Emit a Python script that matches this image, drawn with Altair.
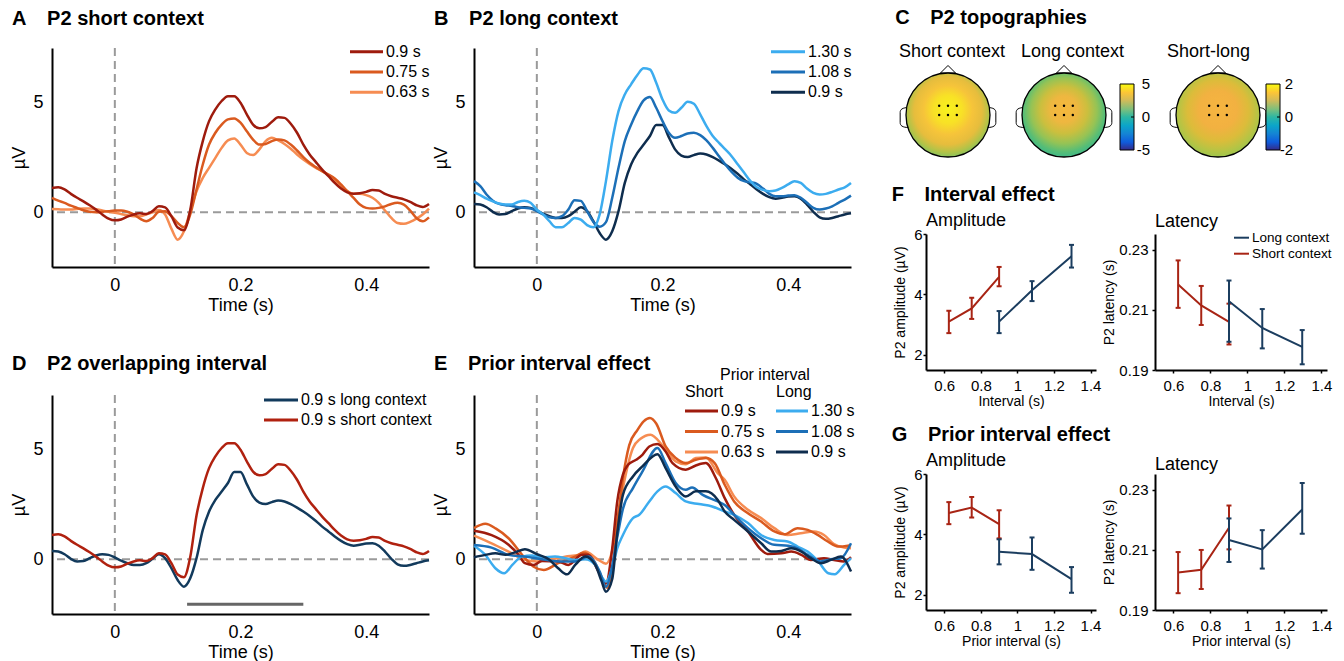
import altair as alt
import pandas as pd

FONT = "Liberation Sans"

# ---------------- ERP data (µV), sampled every 10 ms from -0.1 to 0.5 s ----------------
time_s = [round(-0.1 + 0.01 * i, 2) for i in range(61)]

short_09 = [1.11, 1.14, 1.04, 0.84, 0.66, 0.5, 0.32, 0.12, -0.1, -0.29,
            -0.37, -0.33, -0.2, -0.1, -0.05, -0.08, 0.05, 0.27, 0.22, -0.18,
            -0.7, -0.82, 0.1, 2.0, 3.25, 4.16, 4.7, 5.08, 5.3, 5.3,
            5.0, 4.47, 4.0, 3.83, 3.89, 4.13, 4.34, 4.31, 4.04, 3.63,
            3.09, 2.64, 2.29, 1.95, 1.65, 1.34, 1.08, 0.91, 0.85, 0.87,
            0.93, 1.02, 0.99, 0.84, 0.73, 0.66, 0.59, 0.47, 0.32, 0.24, 0.38]
short_075 = [0.66, 0.53, 0.43, 0.3, 0.2, 0.09, 0.02, 0.0, 0.02, 0.05,
             0.08, 0.08, 0.02, -0.1, -0.29, -0.41, -0.26, 0.02, 0.05, -0.18,
             -0.49, -0.69, -0.1, 1.04, 2.18, 3.09, 3.63, 4.0, 4.24, 4.28,
             4.09, 3.7, 3.32, 3.09, 3.12, 3.25, 3.32, 3.28, 3.09, 2.82,
             2.52, 2.26, 2.06, 1.88, 1.72, 1.54, 1.27, 0.96, 0.66, 0.35,
             0.2, 0.17, 0.2, 0.27, 0.38, 0.43, 0.35, 0.08, -0.26, -0.41, -0.23]
short_063 = [0.15, 0.14, 0.12, 0.12, 0.15, 0.17, 0.17, 0.14, 0.08, 0.02,
             -0.02, -0.08, -0.14, -0.18, -0.18, -0.1, 0.0, 0.1, -0.1, -0.75,
             -1.25, -0.87, 0.05, 0.96, 1.57, 2.03, 2.48, 2.94, 3.28, 3.37,
             3.09, 2.71, 2.61, 2.87, 3.25, 3.4, 3.28, 3.12, 2.9, 2.64,
             2.41, 2.21, 2.03, 1.88, 1.69, 1.45, 1.19, 0.96, 0.84, 0.84,
             0.78, 0.66, 0.43, 0.08, -0.26, -0.49, -0.53, -0.44, -0.29, -0.1, 0.17]
long_130 = [0.91, 0.78, 0.62, 0.5, 0.4, 0.35, 0.35, 0.47, 0.53, 0.43,
            0.12, -0.1, -0.41, -0.68, -0.69, -0.49, -0.26, -0.34, -0.59, -0.69,
            -0.1, 1.42, 3.25, 4.62, 5.38, 5.84, 6.27, 6.57, 6.52, 5.91,
            5.15, 4.65, 4.54, 4.77, 5.05, 4.95, 4.47, 3.93, 3.48, 3.17,
            2.87, 2.56, 2.18, 1.8, 1.42, 1.14, 1.02, 0.96, 0.99, 1.11,
            1.27, 1.42, 1.34, 1.08, 0.88, 0.81, 0.84, 0.93, 1.04, 1.14, 1.34]
long_108 = [1.42, 1.19, 0.81, 0.53, 0.38, 0.32, 0.29, 0.23, 0.2, 0.17,
            0.05, -0.1, -0.23, -0.26, -0.18, 0.12, 0.55, 0.52, 0.05, -0.44,
            -0.66, -0.45, 0.66, 2.03, 3.25, 4.0, 4.62, 5.11, 5.26, 4.77,
            4.16, 3.63, 3.4, 3.48, 3.6, 3.63, 3.52, 3.28, 2.94, 2.56,
            2.18, 1.84, 1.57, 1.42, 1.37, 1.3, 1.08, 0.84, 0.73, 0.73,
            0.76, 0.78, 0.66, 0.43, 0.2, 0.12, 0.17, 0.27, 0.43, 0.58, 0.76]
long_09 = [0.38, 0.35, 0.23, 0.02, -0.1, -0.08, 0.05, 0.17, 0.23, 0.2,
           0.08, -0.06, -0.18, -0.26, -0.26, -0.18, 0.02, 0.23, 0.05, -0.41,
           -0.95, -1.25, -0.87, 0.05, 1.34, 2.18, 2.71, 3.09, 3.48, 3.98,
           3.98, 3.43, 2.87, 2.59, 2.52, 2.61, 2.68, 2.64, 2.52, 2.36,
           2.18, 1.98, 1.75, 1.49, 1.27, 1.04, 0.84, 0.69, 0.62, 0.66,
           0.72, 0.73, 0.62, 0.35, 0.02, -0.23, -0.3, -0.26, -0.18, -0.1, -0.05]

# significance window in panel D (s) and its drawing level (µV)
sig_start = [0.115]
sig_end = [0.3]
sig_level = [-2.05]

# ---------------- Prior interval effect (panel E) ----------------
pe_s09_t = [-0.1, -0.072, -0.045, -0.029, -0.019, -0.005, 0.008, 0.034, 0.05, 0.072, 0.082, 0.098, 0.11, 0.12,
            0.128, 0.137, 0.145, 0.158, 0.168, 0.179, 0.192, 0.205, 0.216, 0.237, 0.253, 0.269, 0.285, 0.299,
            0.314, 0.336, 0.357, 0.367, 0.389, 0.405, 0.421, 0.436, 0.457, 0.473, 0.489, 0.5]
pe_s09_v = [1.3, 1.1, 0.66, 0.2, -0.18, -0.26, -0.08, -0.1, -0.26, 0.2, 0.2, -0.56, -1.1, 0.5,
            2.64, 3.86, 4.31, 4.54, 4.77, 5.15, 5.26, 4.92, 4.39, 4.09, 4.28, 4.39, 3.7, 2.79,
            2.03, 1.27, 0.43, 0.24, 0.27, 0.35, 0.2, -0.03, 0.05, -0.03, -0.1, 0.1]
pe_s075_t = [-0.1, -0.082, -0.065, -0.045, -0.019, -0.005, 0.011, 0.034, 0.061, 0.074, 0.088, 0.104, 0.112, 0.12,
             0.128, 0.137, 0.147, 0.16, 0.17, 0.18, 0.19, 0.205, 0.221, 0.237, 0.253, 0.269, 0.283, 0.299,
             0.314, 0.336, 0.357, 0.378, 0.394, 0.415, 0.431, 0.447, 0.463, 0.479, 0.495, 0.5]
pe_s075_v = [1.42, 1.62, 1.4, 0.96, 0.05, -0.34, -0.49, -0.18, 0.12, 0.3, 0.05, -0.87, -1.3, -0.5,
             1.6, 3.7, 5.2, 5.9, 6.3, 6.45, 6.2, 5.15, 4.62, 4.39, 4.54, 4.62, 4.39, 3.4,
             2.64, 2.1, 1.72, 1.27, 1.14, 1.42, 1.34, 1.11, 0.81, 0.58, 0.62, 0.65]
pe_s063_t = [-0.1, -0.072, -0.045, -0.019, 0.0, 0.019, 0.045, 0.066, 0.077, 0.098, 0.11, 0.12, 0.128, 0.137,
             0.153, 0.165, 0.181, 0.2, 0.221, 0.237, 0.253, 0.269, 0.288, 0.299, 0.314, 0.336, 0.357, 0.378,
             0.399, 0.42, 0.441, 0.457, 0.473, 0.489, 0.5]
pe_s063_v = [1.08, 0.73, 0.35, -0.03, -0.1, -0.03, 0.12, 0.2, 0.35, -0.03, -0.2, 0.4, 1.8, 3.25,
             5.08, 5.5, 5.69, 5.2, 4.47, 4.34, 4.62, 4.65, 3.93, 3.63, 2.87, 2.26, 1.88, 1.42,
             1.11, 1.19, 1.27, 1.11, 0.69, 0.53, 0.5]
pe_l130_t = [-0.1, -0.082, -0.066, -0.052, -0.039, -0.024, -0.008, 0.008, 0.029, 0.045, 0.061, 0.077, 0.093, 0.103,
             0.11, 0.12, 0.128, 0.137, 0.153, 0.163, 0.179, 0.192, 0.205, 0.221, 0.237, 0.258, 0.279, 0.299,
             0.314, 0.336, 0.357, 0.378, 0.399, 0.415, 0.431, 0.448, 0.464, 0.474, 0.489, 0.5]
pe_l130_v = [0.62, 0.2, -0.41, -0.64, -0.26, 0.12, 0.17, 0.09, 0.12, 0.05, -0.03, 0.0, -0.26, -0.8,
             -1.02, -0.4, 0.5, 1.11, 1.88, 2.03, 2.64, 3.1, 3.32, 3.02, 2.64, 2.52, 2.41, 2.18,
             2.03, 1.65, 1.11, 0.88, 0.81, 0.58, 0.35, -0.1, -0.64, -0.69, -0.26, 0.05]
pe_l108_t = [-0.1, -0.072, -0.045, -0.019, 0.008, 0.034, 0.061, 0.082, 0.1, 0.11, 0.12, 0.128, 0.137, 0.153,
             0.168, 0.192, 0.205, 0.221, 0.237, 0.247, 0.264, 0.288, 0.299, 0.314, 0.336, 0.357, 0.378, 0.4,
             0.415, 0.431, 0.452, 0.468, 0.484, 0.5]
pe_l108_v = [0.65, 0.53, 0.2, 0.12, 0.0, -0.1, -0.1, 0.12, -0.56, -1.25, -0.3, 1.0, 2.3, 3.25,
             4.0, 5.08, 4.39, 3.48, 3.17, 3.28, 2.94, 2.64, 2.48, 2.03, 1.42, 0.96, 0.66, 0.62,
             0.5, 0.2, -0.1, 0.0, 0.05, 0.73]
pe_l09_t = [-0.1, -0.082, -0.066, -0.05, -0.034, -0.019, 0.0, 0.019, 0.034, 0.048, 0.061, 0.077, 0.093, 0.103,
            0.11, 0.12, 0.128, 0.137, 0.153, 0.168, 0.192, 0.205, 0.221, 0.237, 0.253, 0.269, 0.288, 0.299,
            0.314, 0.336, 0.357, 0.373, 0.389, 0.405, 0.421, 0.436, 0.452, 0.468, 0.484, 0.5]
pe_l09_v = [0.09, 0.2, 0.27, 0.2, 0.32, 0.46, 0.23, 0.0, -0.41, -0.69, -0.26, 0.12, -0.26, -1.0,
            -1.48, -0.9, 1.2, 2.94, 3.78, 4.24, 4.8, 4.16, 3.32, 2.87, 3.1, 3.1, 2.71, 2.18,
            1.8, 1.27, 0.73, 0.35, 0.38, 0.5, 0.35, 0.05, -0.18, -0.03, 0.12, -0.56]

# ---------------- P2 measures (panels F, G) ----------------
interval_short = [0.625, 0.75, 0.9]
interval_long = [0.9, 1.08, 1.296]

f_amp_short = [3.1, 3.54, 4.58]
f_amp_short_lo = [2.72, 3.19, 4.27]
f_amp_short_hi = [3.46, 3.89, 4.91]
f_amp_long = [3.1, 4.14, 5.26]
f_amp_long_lo = [2.72, 3.78, 4.89]
f_amp_long_hi = [3.45, 4.44, 5.64]

f_lat_short = [0.2185, 0.2115, 0.206]
f_lat_short_lo = [0.2107, 0.205, 0.1985]
f_lat_short_hi = [0.2265, 0.218, 0.2121]
f_lat_long = [0.2129, 0.204, 0.1977]
f_lat_long_lo = [0.1994, 0.1972, 0.1919]
f_lat_long_hi = [0.2198, 0.2103, 0.2033]

g_amp_short = [4.71, 4.89, 4.34]
g_amp_short_lo = [4.34, 4.56, 3.87]
g_amp_short_hi = [5.07, 5.24, 4.8]
g_amp_long = [3.43, 3.35, 2.52]
g_amp_long_lo = [3.01, 2.83, 2.07]
g_amp_long_hi = [3.84, 3.9, 2.92]

g_lat_short = [0.2025, 0.2034, 0.2174]
g_lat_short_lo = [0.1956, 0.197, 0.2102]
g_lat_short_hi = [0.2093, 0.21, 0.2248]
g_lat_long = [0.2133, 0.2102, 0.2235]
g_lat_long_lo = [0.206, 0.2038, 0.2154]
g_lat_long_hi = [0.2205, 0.2166, 0.2323]

# ---------------- topographies (panel C) ----------------
topo_maps = ["Short context", "Long context", "Short-long"]
electrode_x = [-0.21, 0.0, 0.21, -0.21, 0.0, 0.21]
electrode_y = [0.22, 0.22, 0.22, 0.0, 0.0, 0.0]
cbar1_ticks = [5, 0, -5]
cbar2_ticks = [2, 0, -2]

# ---------------- styles ----------------
RED_DK = "#9e1b0d"
ORANGE = "#da5a1f"
ORANGE_LT = "#f68c52"
BLUE_LT = "#3cacef"
BLUE_MD = "#1c6fb7"
NAVY = "#0e2d4e"
RED_D = "#b0210f"
NAVY_D = "#123a5c"
RED_F = "#a82414"
NAVY_F = "#1b3d5f"
GRAY = "#9a9a9a"

ERP_XS = alt.Scale(domain=[-0.1, 0.5], nice=False, zero=False)
ERP_YS = alt.Scale(domain=[-2.5, 7.5], nice=False, zero=False)
ERP_XAX = alt.Axis(values=[0, 0.2, 0.4], format="~g", title="Time (s)", labelFontSize=18,
                   titleFontSize=18, labelPadding=9, titlePadding=2, ticks=False)
ERP_YAX = alt.Axis(values=[0, 5], title="µV", labelFontSize=18, titleFontSize=18,
                   labelPadding=9, titlePadding=4, ticks=False)


def legend_layers(items, x1, x2, xt, ys, font=16, sw=3):
    out = []
    for (label, color), y in zip(items, ys):
        d = pd.DataFrame({"label": [label]})
        out.append(alt.Chart(d).mark_rule(color=color, strokeWidth=sw).encode(
            x=alt.value(x1), x2=alt.value(x2), y=alt.value(y)))
        out.append(alt.Chart(d).mark_text(align="left", baseline="middle", fontSize=font, color="black").encode(
            x=alt.value(xt), y=alt.value(y), text="label:N"))
    return out


def text_layer(label, x, y, align="left", font=16):
    d = pd.DataFrame({"label": [label]})
    return alt.Chart(d).mark_text(align=align, baseline="middle", fontSize=font, color="black").encode(
        x=alt.value(x), y=alt.value(y), text="label:N")


def erp_panel(title, series, legend, title_offset, extras=()):
    X = alt.X("t:Q", scale=ERP_XS, axis=ERP_XAX)
    Y = alt.Y("v:Q", scale=ERP_YS, axis=ERP_YAX)
    zero_x = alt.Chart(pd.DataFrame({"t": [0.0]})).mark_rule(
        color=GRAY, strokeWidth=2, strokeDash=[8, 5]).encode(x=X)
    zero_y = alt.Chart(pd.DataFrame({"v": [0.0]})).mark_rule(
        color=GRAY, strokeWidth=2, strokeDash=[8, 5]).encode(y=Y)
    waves = []
    for ts, vs, col in series:
        d = pd.DataFrame({"t": ts, "v": vs})
        waves.append(alt.Chart(d).mark_line(color=col, strokeWidth=2.5, interpolate="monotone").encode(x=X, y=Y))
    layers = [zero_x, zero_y] + waves + list(extras) + list(legend)
    return alt.layer(*layers).properties(
        width=377, height=219,
        title=alt.TitleParams(title, anchor="start", fontSize=20, fontWeight="bold", offset=title_offset, dx=1))


NB = "\u00a0\u00a0\u00a0\u2009"

panel_a = erp_panel(
    "A" + NB + "P2 short context",
    [(time_s, short_063, ORANGE_LT), (time_s, short_075, ORANGE), (time_s, short_09, RED_DK)],
    legend_layers([("0.9 s", RED_DK), ("0.75 s", ORANGE), ("0.63 s", ORANGE_LT)],
                  298, 331, 334, [3.7, 24, 44.3]),
    15)

panel_b = erp_panel(
    "B" + NB + "P2 long context",
    [(time_s, long_09, NAVY), (time_s, long_108, BLUE_MD), (time_s, long_130, BLUE_LT)],
    legend_layers([("1.30 s", BLUE_LT), ("1.08 s", BLUE_MD), ("0.9 s", NAVY)],
                  297, 331, 334, [3.7, 24, 44.3]),
    15)

sig_df = pd.DataFrame({"t0": sig_start, "t1": sig_end, "v": sig_level})
sig_bar = alt.Chart(sig_df).mark_rule(color="#666666", strokeWidth=3).encode(
    x=alt.X("t0:Q", scale=ERP_XS, axis=ERP_XAX), x2="t1:Q",
    y=alt.Y("v:Q", scale=ERP_YS, axis=ERP_YAX))

panel_d = erp_panel(
    "D" + NB + "P2 overlapping interval",
    [(time_s, long_09, NAVY_D), (time_s, short_09, RED_D)],
    legend_layers([("0.9 s long context", NAVY_D), ("0.9 s short context", RED_D)],
                  212, 246, 249, [5, 25]),
    18, extras=[sig_bar])

e_header = [text_layer("Prior interval", 291, -20, align="center"),
            text_layer("Short", 211, -3), text_layer("Long", 302, -3)]
panel_e = erp_panel(
    "E" + NB + "Prior interval effect",
    [(pe_s063_t, pe_s063_v, ORANGE_LT), (pe_s075_t, pe_s075_v, ORANGE), (pe_s09_t, pe_s09_v, RED_DK),
     (pe_l130_t, pe_l130_v, BLUE_LT), (pe_l108_t, pe_l108_v, BLUE_MD), (pe_l09_t, pe_l09_v, NAVY)],
    e_header
    + legend_layers([("0.9 s", RED_DK), ("0.75 s", ORANGE), ("0.63 s", ORANGE_LT)],
                    211, 244, 247, [16, 36.5, 57])
    + legend_layers([("1.30 s", BLUE_LT), ("1.08 s", BLUE_MD), ("0.9 s", NAVY)],
                    302, 334, 337, [16, 36.5, 57]),
    -7)

left = alt.vconcat(
    alt.hconcat(panel_a, panel_b, spacing=-2),
    alt.hconcat(panel_d, panel_e, spacing=-2),
    spacing=40)


# ---------------- panel C ----------------
def radial(stops):
    return {"gradient": "radial", "x1": 0.5, "y1": 0.42, "r1": 0, "x2": 0.5, "y2": 0.46, "r2": 0.56,
            "stops": [{"offset": o, "color": c} for o, c in stops]}


PARULA = [(0.0, "#352a87"), (0.12, "#0f5cdd"), (0.25, "#1485d4"), (0.37, "#0ba5c9"), (0.5, "#2db7a3"),
          (0.62, "#7fbf7b"), (0.75, "#d1bb59"), (0.87, "#fcc537"), (1.0, "#f9fb0e")]
CBAR_FILL = {"gradient": "linear", "x1": 0, "y1": 1, "x2": 0, "y2": 0,
             "stops": [{"offset": o, "color": c} for o, c in PARULA]}

HEAD_FILLS = [
    [(0, "#f8f31c"), (0.3, "#f8e126"), (0.52, "#f6c43a"), (0.72, "#e6bd3d"), (0.87, "#b3c347"), (1.0, "#7cc364")],
    [(0, "#f5b83c"), (0.28, "#eeb740"), (0.5, "#cbbf3e"), (0.7, "#95c355"), (0.87, "#55bd77"), (1.0, "#38b68c")],
    [(0, "#f6b540"), (0.4, "#f2b141"), (0.65, "#dcbc3a"), (0.85, "#b6c444"), (1.0, "#98c650")],
]

C_H = 112
HY = alt.Scale(domain=[-1, 1], range=[109, 25])
EAR_L = "M0.4,-1 C-0.3,-1 -0.5,-0.8 -0.5,-0.5 L-0.5,0.5 C-0.5,0.8 -0.3,1 0.4,1 Z"
EAR_R = "M-0.4,-1 C0.3,-1 0.5,-0.8 0.5,-0.5 L0.5,0.5 C0.5,0.8 0.3,1 -0.4,1 Z"
NOSE = "M-1,0.5 L0,-0.5 L1,0.5 Z"


def head_chart(name, fill, width, cx, title_dx):
    hx = alt.Scale(domain=[-1, 1], range=[cx - 42, cx + 42])
    one = alt.Chart(pd.DataFrame({"map": [name]}))

    def at(x, y):
        return dict(x=alt.X(datum=x, type="quantitative", scale=hx, axis=None),
                    y=alt.Y(datum=y, type="quantitative", scale=HY, axis=None))

    nose = one.mark_point(shape=NOSE, size=225, filled=True, fill="white", stroke="black",
                          strokeWidth=1, opacity=1).encode(**at(0, 1.09))
    ear_l = one.mark_point(shape=EAR_L, size=400, filled=True, fill="white", stroke="black",
                           strokeWidth=1, opacity=1).encode(**at(-1.02, -0.06))
    ear_r = one.mark_point(shape=EAR_R, size=400, filled=True, fill="white", stroke="black",
                           strokeWidth=1, opacity=1).encode(**at(1.02, -0.06))
    head = one.mark_point(shape="circle", size=7056, filled=True, fill=radial(fill), stroke="black",
                          strokeWidth=1.3, opacity=1).encode(**at(0, 0))
    el = alt.Chart(pd.DataFrame({"ex": electrode_x, "ey": electrode_y})).mark_circle(
        size=6, color="black", opacity=1).encode(
        x=alt.X("ex:Q", scale=hx, axis=None), y=alt.Y("ey:Q", scale=HY, axis=None))
    return alt.layer(nose, ear_l, ear_r, head, el).properties(
        width=width, height=C_H,
        title=alt.TitleParams(name, anchor="start", frame="group", fontSize=18, fontWeight="normal",
                              offset=-13, dx=title_dx))


def cbar_chart(ticks, width, label_x):
    lim = max(ticks)
    ys = alt.Scale(domain=[-lim, lim], range=[102, 36])
    rect = alt.Chart(pd.DataFrame({"lo": [-lim], "hi": [lim]})).mark_rect(
        fill=CBAR_FILL, stroke="black", strokeWidth=1).encode(
        x=alt.value(0), x2=alt.value(14), y=alt.Y("lo:Q", scale=ys, axis=None), y2="hi:Q")
    labels = alt.Chart(pd.DataFrame({"tick": ticks, "label": [str(t) for t in ticks]})).mark_text(
        align="right", baseline="middle", fontSize=15, color="black").encode(
        x=alt.value(label_x), y=alt.Y("tick:Q", scale=ys, axis=None), text="label:N")
    mid = alt.Chart(pd.DataFrame({"tick": [0]})).mark_rule(color="black", strokeWidth=1).encode(
        x=alt.value(11), x2=alt.value(14), y=alt.Y("tick:Q", scale=ys, axis=None))
    return alt.layer(rect, mid, labels).properties(width=width, height=C_H)


panel_c = alt.hconcat(
    head_chart(topo_maps[0], HEAD_FILLS[0], 96, 22, -27),
    head_chart(topo_maps[1], HEAD_FILLS[1], 98, 42, -1),
    cbar_chart(cbar1_ticks, 55, 30),
    head_chart(topo_maps[2], HEAD_FILLS[2], 91, 43, -8),
    cbar_chart(cbar2_ticks, 40, 27),
    spacing=0, bounds="flush",
    title=alt.TitleParams("C" + NB + "P2 topographies", anchor="start", fontSize=20,
                          fontWeight="bold", offset=15, dx=-3))


# ---------------- panels F, G ----------------
def effect_panel(subtitle, m_s, lo_s, hi_s, m_l, lo_l, hi_l, ydom, yvals, yfmt, ytitle, xtitle,
                 width, title_offset, ylabpad, ytitlepad, legend=False):
    xs = alt.Scale(domain=[0.5, 1.43], nice=False, zero=False)
    xax = alt.Axis(values=[0.6, 0.8, 1, 1.2, 1.4], format="~g", title=xtitle, labelFontSize=15,
                   titleFontSize=14, ticks=True, tickSize=3, tickWidth=1.5, labelPadding=5, titlePadding=1)
    ys = alt.Scale(domain=ydom, nice=False, zero=False)
    yax = alt.Axis(values=yvals, format=yfmt, title=ytitle, labelFontSize=15, titleFontSize=14,
                   ticks=True, tickSize=3, tickWidth=1.5, labelPadding=ylabpad, titlePadding=ytitlepad)
    X = alt.X("x:Q", scale=xs, axis=xax)
    layers = []
    for xv, m, lo, hi, col in [(interval_short, m_s, lo_s, hi_s, RED_F), (interval_long, m_l, lo_l, hi_l, NAVY_F)]:
        base = alt.Chart(pd.DataFrame({"x": xv, "m": m, "lo": lo, "hi": hi}))
        layers.append(base.mark_rule(color=col, strokeWidth=2).encode(
            x=X, y=alt.Y("lo:Q", scale=ys, axis=yax), y2="hi:Q"))
        layers.append(base.mark_line(color=col, strokeWidth=2).encode(
            x=X, y=alt.Y("m:Q", scale=ys, axis=yax)))
        layers.append(base.mark_tick(color=col, orient="horizontal", size=5, thickness=2, opacity=1).encode(
            x=X, y=alt.Y("lo:Q", scale=ys, axis=yax)))
        layers.append(base.mark_tick(color=col, orient="horizontal", size=5, thickness=2, opacity=1).encode(
            x=X, y=alt.Y("hi:Q", scale=ys, axis=yax)))
    if legend:
        layers += legend_layers([("Long context", NAVY_F), ("Short context", RED_F)],
                                79, 94, 97, [3.7, 19.7], font=13.5, sw=2)
    return alt.layer(*layers).properties(
        width=width, height=136,
        title=alt.TitleParams(subtitle, anchor="start", frame="group", fontSize=18,
                              fontWeight="normal", offset=title_offset))


AMP_DOM = [1.5, 6]
LAT_DOM = [0.19, 0.2353]

f_amp = effect_panel("Amplitude", f_amp_short, f_amp_short_lo, f_amp_short_hi,
                     f_amp_long, f_amp_long_lo, f_amp_long_hi, AMP_DOM, [2, 4, 6], "~g",
                     "P2 amplitude (µV)", "Interval (s)", 170, -3, 1, 6)
f_lat = effect_panel("Latency", f_lat_short, f_lat_short_lo, f_lat_short_hi,
                     f_lat_long, f_lat_long_lo, f_lat_long_hi, LAT_DOM, [0.19, 0.21, 0.23], ".2f",
                     "P2 latency (s)", "Interval (s)", 172, 0, 4, 2, legend=True)
g_amp = effect_panel("Amplitude", g_amp_short, g_amp_short_lo, g_amp_short_hi,
                     g_amp_long, g_amp_long_lo, g_amp_long_hi, AMP_DOM, [2, 4, 6], "~g",
                     "P2 amplitude (µV)", "Prior interval (s)", 170, -3, 1, 6)
g_lat = effect_panel("Latency", g_lat_short, g_lat_short_lo, g_lat_short_hi,
                     g_lat_long, g_lat_long_lo, g_lat_long_hi, LAT_DOM, [0.19, 0.21, 0.23], ".2f",
                     "P2 latency (s)", "Prior interval (s)", 172, 0, 4, 2)

panel_f = alt.hconcat(f_amp, f_lat, spacing=1,
                      title=alt.TitleParams("F" + NB + "Interval effect", anchor="start", fontSize=20,
                                            fontWeight="bold", offset=7, dx=-2))
panel_g = alt.hconcat(g_amp, g_lat, spacing=1,
                      title=alt.TitleParams("G" + NB + "Prior interval effect", anchor="start",
                                            fontSize=20, fontWeight="bold", offset=7, dx=-2))

right = alt.vconcat(panel_c, alt.vconcat(panel_f, panel_g, spacing=17), spacing=25)

chart = alt.hconcat(left, right, spacing=35).properties(
    padding={"left": 10, "top": 8, "right": 2, "bottom": 2}
).configure_view(stroke=None).configure_axis(
    domainColor="black", domainWidth=2, tickColor="black", labelColor="black", titleColor="black",
    grid=False, labelFont=FONT, titleFont=FONT, titleFontWeight="normal"
).configure_title(font=FONT, color="black").configure_text(font=FONT)

chart.save("out.html", embed_options={"renderer": "svg", "actions": False})
